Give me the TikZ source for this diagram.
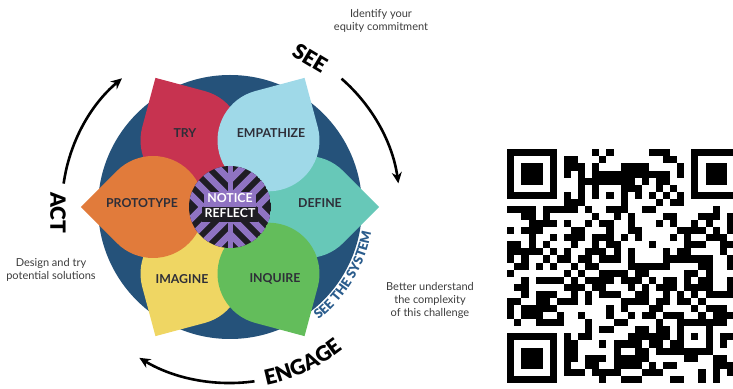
\documentclass[tikz,border=0pt]{standalone}
\usepackage{fontspec}
\setmainfont{Lato}
\newfontfamily\heavyfont{Lato Black}
\usetikzlibrary{calc,arrows.meta,decorations.text}

\definecolor{ringblue}{HTML}{25527A}
\definecolor{tryred}{HTML}{C73350}
\definecolor{empblue}{HTML}{9FD9E8}
\definecolor{defteal}{HTML}{67C8B8}
\definecolor{inqgreen}{HTML}{63BD5B}
\definecolor{imgyellow}{HTML}{EFD663}
\definecolor{protoorange}{HTML}{E17B3B}
\definecolor{notepurple}{HTML}{8F73C2}
\definecolor{noteblack}{HTML}{1F1D24}
\definecolor{labelgray}{HTML}{2E2E38}
\definecolor{smallgray}{HTML}{3C3C3C}
\definecolor{systemblue}{HTML}{2A5C8C}

\newcommand{\bigwordfont}{\heavyfont\fontsize{21}{24}\selectfont}
\newcommand{\systemfont}{\color{systemblue}\heavyfont\fontsize{13}{15}\selectfont}

\begin{document}
\begin{tikzpicture}[x=1pt,y=1pt,
	petal/.style={font=\fontsize{12.3}{14}\selectfont\bfseries,text=labelgray},
	note/.style={font=\fontsize{11}{13}\selectfont,text=smallgray,align=center},
	bigword/.style={font=\bigwordfont,text=black},
	turnarrow/.style={line width=2.6pt,->,>={Stealth[length=11pt,width=10pt]}},
	stripe/.style={notepurple,line width=6.5pt},
	band/.style={font=\fontsize{12.3}{14}\selectfont\bfseries,text=white,inner xsep=3pt,inner ysep=2pt,text height=9pt,text depth=2pt}]
	\useasboundingbox (0,0) rectangle (733,388);
	\coordinate (C) at (230,181);
	% blue disc
	\fill[ringblue] (C) circle (132);
	% petals, lower three first
	\foreach \ang/\col in {120/tryred,0/defteal,240/imgyellow,60/empblue,180/protoorange,300/inqgreen}{
		\fill[\col] ($(C)+(\ang:149.1)$) -- ($(C)+(\ang:77)+(\ang+45:51)$)
			arc[start angle=\ang+45,end angle=\ang+315,radius=51] -- cycle;
	}
	\node[petal] (try) at (185,255) {TRY};
	\node[petal] (empathize) at (271,255) {EMPATHIZE};
	\node[petal] (prototype) at (142,185) {PROTOTYPE};
	\node[petal] (define) at (320,185) {DEFINE};
	\node[petal] (imagine) at (182,109) {IMAGINE};
	\node[petal] (inquire) at (275,109) {INQUIRE};
	% centre disc with chevrons
	\begin{scope}
		\clip (C) circle (41);
		\fill[noteblack] (C) circle (41);
		\foreach \sx in {1,-1}{
			\foreach \sy in {1,-1}{
				\begin{scope}[shift={(C)},xscale=\sx,yscale=\sy]
					\clip (0,0) rectangle (45,45);
					\foreach \k in {-45,-27,...,40}{
						\draw[stripe] (\k,0) -- ++(80,80);
					}
				\end{scope}
			}
		}
		\fill[notepurple] ($(C)+(-2.5,-45)$) rectangle ($(C)+(2.5,45)$);
	\end{scope}
	\node[band,fill=notepurple] (notice) at (230,188.5) {NOTICE};
	\node[band,fill=noteblack] (reflect) at (230,173.5) {REFLECT};
	% cycle around
	\draw[turnarrow] ($(C)+(49:170)$) arc[start angle=49,end angle=8,radius=170];
	\draw[turnarrow] ($(C)+(-82:176)$) arc[start angle=-82,end angle=-121,radius=176];
	\draw[turnarrow] ($(C)+(172:168)$) arc[start angle=172,end angle=130,radius=168];
	\node[bigword,rotate=-31] (see) at (310,330) {SEE};
	\node[bigword,rotate=-90] (act) at (58,175) {ACT};
	\path[decorate,decoration={text along path,text={|\bigwordfont|ENGAGE},text align=center}]
		($(C)+(-95:182)$) arc[start angle=-95,end angle=-35,radius=182];
	\path[decorate,decoration={text along path,text={|\systemfont|SEE THE SYSTEM},text align=center}]
		($(C)+(-76:143.5)$) arc[start angle=-76,end angle=14,radius=143.5];
	% side notes
	\node[note] (identify) at (381,367) {Identify your\\equity commitment};
	\node[note] (design) at (51,118) {Design and try\\potential solutions};
	\node[note] (better) at (430,88) {Better understand\\the complexity\\of this challenge};
	% qr code
	\begin{scope}
		\clip (0,0) rectangle (733,388);
		\begin{scope}[shift={(507.3,238.7)},x=7.08pt,y=-7.08pt]
			\pgfmathsetseed{4217}
			\foreach \qr in {0,...,32}{
				\foreach \qc in {0,...,32}{
					\pgfmathtruncatemacro{\qrfree}{!((\qc<8 && \qr<8) || (\qc>24 && \qr<8) || (\qc<8 && \qr>24) || (\qc>23 && \qc<29 && \qr>23 && \qr<29) || \qc==6 || \qr==6)}
					\pgfmathtruncatemacro{\qrbit}{rnd<0.5}
					\ifnum\qrfree\qrbit=11 \fill (\qc,\qr) rectangle ++(1,1);\fi
				}
			}
			\foreach \i in {8,10,...,24}{
				\fill (\i,6) rectangle ++(1,1);
				\fill (6,\i) rectangle ++(1,1);
			}
			\foreach \fx/\fy in {0/0,26/0,0/26}{
				\fill (\fx,\fy) rectangle ++(7,7);
				\fill[white] (\fx+1,\fy+1) rectangle ++(5,5);
				\fill (\fx+2,\fy+2) rectangle ++(3,3);
			}
			\fill (24,24) rectangle ++(5,5);
			\fill[white] (25,25) rectangle ++(3,3);
			\fill (26,26) rectangle ++(1,1);
		\end{scope}
	\end{scope}
\end{tikzpicture}
\end{document}
